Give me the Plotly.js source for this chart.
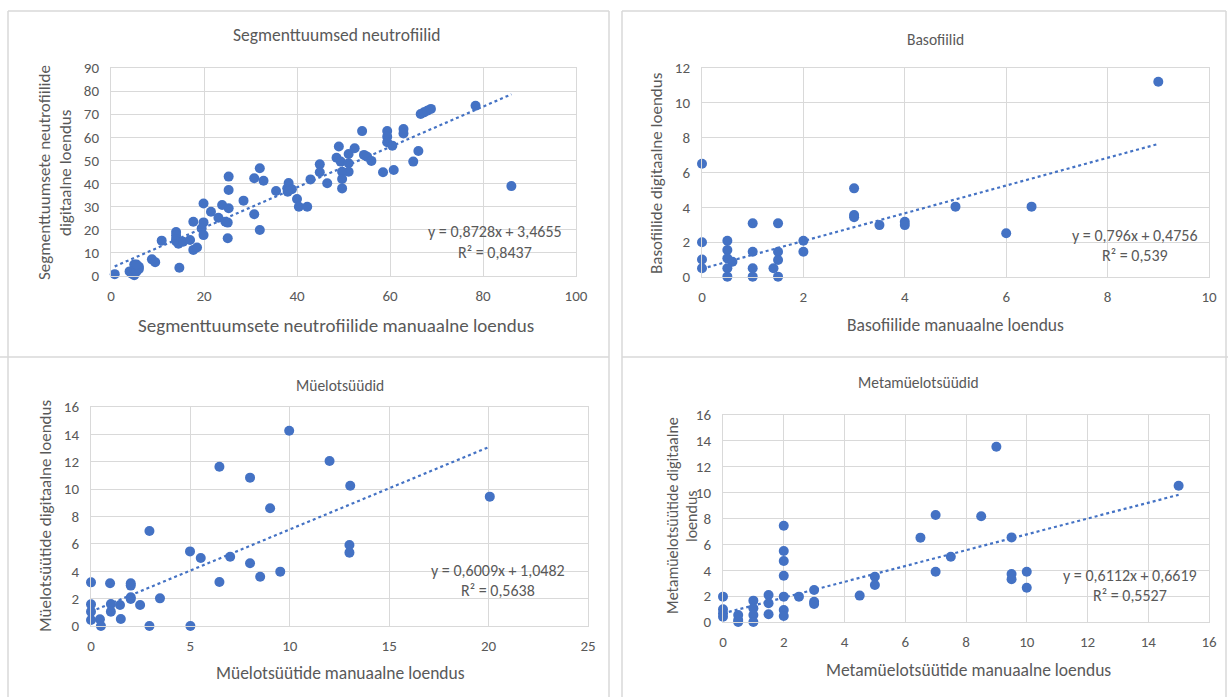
<!DOCTYPE html>
<html><head><meta charset="utf-8">
<script src="https://cdn.plot.ly/plotly-3.0.1.min.js"></script>
<style>html,body{margin:0;padding:0;background:#fff}#chart{width:1228px;height:697px}</style>
</head><body><div id="chart"></div>
<script>
// Panel 1: Segmenttuumsed neutrofiilid
const segManual = [0.8,4,4.5,5,5,5,5.5,6,6,5.5,8.8,9.5,10.9,14.7,14,14,14,14,14.5,15.5,17,17.7,18.5,17.7,19.9,19.5,19.9,19.9,21.5,23.1,24.6,23.9,25.3,25.1,25.1,25.3,25.3,28.5,30.8,32,32.8,30.8,32,35.5,37.9,38.2,38.9,38,40,40.4,42.2,42.9,44.9,44.9,46.5,49,48.5,49.4,51.1,51.1,51.1,49.7,49.7,49.7,52.4,54,54.4,55.1,56,58.5,59.4,59.4,59.4,60.5,60.8,62.9,62.9,65,66.1,66.6,67.3,68,68.8,78.4,86.1];
const segDigital = [0.8,2,1,0.3,3,5,2,4,3,5,7.2,6,15.3,3.6,19,17.5,16,15,14,14.8,15.6,11.3,12.3,23.5,23.2,20.6,17.7,31.4,27.8,25.2,23.5,30.7,29.3,23.1,16.3,37.2,43,32.6,42.3,46.6,41.2,26.7,19.9,36.8,38,40.2,37.5,36.5,33.3,30,30,41.8,48.3,44.9,40.1,56,51.2,49.5,52.8,48.8,45.1,45.1,42,37.9,55.3,62.7,52.4,51.6,49.8,44.9,62.7,60.3,57.9,56.4,45.9,63.6,61.7,49.5,54.1,70.1,70.8,71.5,72.3,73.7,38.9];
const segFit = {slope: 0.8728, intercept: 3.4655, eq: "y = 0,8728x + 3,4655", r2: "R² = 0,8437"};

// Panel 2: Basofiilid
const basManual = [0,0,0,0,0.5,0.5,0.5,0.6,0.5,0.5,1,1,1,1,1.5,1.5,1.5,1.41,1.5,2,2,3,3,3,3.5,4,4,5,6,6.5,9];
const basDigital = [6.5,2,1,0.5,2.08,1.55,1.07,0.88,0.5,0.02,3.08,1.45,0.5,0.02,3.08,1.45,0.98,0.5,0.02,2.08,1.45,5.09,3.56,3.43,2.98,3.17,2.98,4.04,2.51,4.04,11.21];
const basFit = {slope: 0.796, intercept: 0.4756, eq: "y = 0,796x + 0,4756", r2: "R² = 0,539"};

// Panel 3: Müelotsüüdid
const mueManual = [0,0,0,0,0.45,0.5,0.96,1,1,1.46,1.5,2,2,2,2,2.47,2.94,2.94,3.47,4.98,5,5.52,6.46,6.46,7,8,8,8.51,9.01,9.52,9.97,12,13.04,13,13,20.06];
const mueDigital = [3.19,1.58,1.05,0.44,0.49,0,3.12,1.6,1.05,1.53,0.51,3.12,2.95,2.1,1.97,1.53,6.94,0,2.02,5.45,0,4.97,11.64,3.21,5.06,10.84,4.58,3.6,8.6,3.97,14.27,12.05,10.25,5.92,5.36,9.45];
const mueFit = {slope: 0.6009, intercept: 1.0482, eq: "y = 0,6009x + 1,0482", r2: "R² = 0,5638"};

// Panel 4: Metamüelotsüüdid
const metManual = [0,0,0,0,0.5,0.5,0.5,1,1,1,1,1.5,1.5,1.5,2,2,2,2,2,2,2,2.5,3,3,3,4.5,5,5,6.5,7,7,7.5,8.5,9,9.5,9.5,9.5,10,10,15];
const metDigital = [1.96,0.98,0.67,0.41,0.54,0.15,0,1.65,1.06,0.54,0,2.09,1.45,0.6,7.44,5.49,4.71,3.58,1.96,0.93,0.46,1.96,2.47,1.57,1.39,2.04,3.5,2.86,6.52,8.27,3.89,5.05,8.17,13.55,6.54,3.71,3.3,3.89,2.65,10.53];
const metFit = {slope: 0.6112, intercept: 0.6619, eq: "y = 0,6112x + 0,6619", r2: "R² = 0,5527"};

const W = 1228, H = 697;
const px = x => x / W, py = y => 1 - y / H;
const blue = '#4472C4', grid = '#d9d9d9', txt = '#595959';
const FONT = 'Carlito, Lato, "Liberation Sans", sans-serif';

const panels = [
  {mx: segManual, dy: segDigital, fit: segFit, xa: 'x', ya: 'y', xdom: [111, 576], ydom: [68, 276], xr: [0, 100], xd: 20, yr: [0, 90], yd: 10,
   title: 'Segmenttuumsed neutrofiilid', tsz: 17.5, tpos: [336, 35], xt: 'Segmenttuumsete neutrofiilide manuaalne loendus', xsz: 19, xtpos: [336, 325],
   yt: ['Segmenttuumsete neutrofiilide', 'digitaalne loendus'], ytsz: 17, ytx: [45, 66], yty: 173, eqpos: [495, 232]},
  {mx: basManual, dy: basDigital, fit: basFit, xa: 'x2', ya: 'y2', xdom: [702, 1209], ydom: [68, 277], xr: [0, 10], xd: 2, yr: [0, 12], yd: 2,
   title: 'Basofiilid', tsz: 15.5, tpos: [935, 40], xt: 'Basofiilide manuaalne loendus', xsz: 17.5, xtpos: [955, 325],
   yt: ['Basofiilide digitaalne loendus'], ytsz: 17, ytx: [657], yty: 173, eqpos: [1135, 235]},
  {mx: mueManual, dy: mueDigital, fit: mueFit, xa: 'x3', ya: 'y3', xdom: [91, 588], ydom: [407, 626], xr: [0, 25], xd: 5, yr: [0, 16], yd: 2,
   title: 'Müelotsüüdid', tsz: 15.5, tpos: [340, 385], xt: 'Müelotsüütide manuaalne loendus', xsz: 17.5, xtpos: [340, 673],
   yt: ['Müelotsüütide digitaalne loendus'], ytsz: 17, ytx: [45], yty: 516, eqpos: [498, 570]},
  {mx: metManual, dy: metDigital, fit: metFit, xa: 'x4', ya: 'y4', xdom: [723, 1209], ydom: [415, 622], xr: [0, 16], xd: 2, yr: [0, 16], yd: 2,
   title: 'Metamüelotsüüdid', tsz: 15.5, tpos: [918, 383], xt: 'Metamüelotsüütide manuaalne loendus', xsz: 17.5, xtpos: [968, 670],
   yt: ['Metamüelotsüütide digitaalne', 'loendus'], ytsz: 16, ytx: [672, 691], yty: 516, eqpos: [1130, 575]}
];

const traces = [], annotations = [], layout = {
  width: W, height: H, margin: {l: 0, r: 0, t: 0, b: 0}, showlegend: false,
  paper_bgcolor: '#fff', plot_bgcolor: '#fff', font: {family: FONT, color: txt}
};

panels.forEach((p, i) => {
  const xmin = Math.min(...p.mx), xmax = Math.max(...p.mx);
  traces.push({x: [xmin, xmax], y: [p.fit.slope * xmin + p.fit.intercept, p.fit.slope * xmax + p.fit.intercept],
    xaxis: p.xa, yaxis: p.ya, mode: 'lines', line: {color: blue, width: 2.2, dash: 'dot'}, hoverinfo: 'skip', cliponaxis: false});
  traces.push({x: p.mx, y: p.dy, xaxis: p.xa, yaxis: p.ya, mode: 'markers', type: 'scatter', cliponaxis: false,
    marker: {color: blue, size: 10}});
  const sfx = i === 0 ? '' : String(i + 1);
  layout['xaxis' + sfx] = {domain: [px(p.xdom[0]), px(p.xdom[1])], range: p.xr, dtick: p.xd, tick0: 0, anchor: 'y' + sfx,
    showgrid: true, gridcolor: grid, showline: true, linecolor: grid, mirror: true, zeroline: false, ticks: '',
    ticklabelstandoff: 6, tickfont: {family: FONT, size: 15, color: txt}, fixedrange: true};
  layout['yaxis' + sfx] = {domain: [py(p.ydom[1]), py(p.ydom[0])], range: p.yr, dtick: p.yd, tick0: 0, anchor: 'x' + sfx,
    showgrid: true, gridcolor: grid, showline: true, linecolor: grid, mirror: true, zeroline: false, ticks: '',
    ticklabelstandoff: 8, tickfont: {family: FONT, size: 15, color: txt}, fixedrange: true};
  annotations.push({text: p.title, xref: 'paper', yref: 'paper', x: px(p.tpos[0]), y: py(p.tpos[1]), xanchor: 'center', yanchor: 'middle',
    showarrow: false, font: {family: FONT, size: p.tsz, color: txt}});
  annotations.push({text: p.xt, xref: 'paper', yref: 'paper', x: px(p.xtpos[0]), y: py(p.xtpos[1]), xanchor: 'center', yanchor: 'middle',
    showarrow: false, font: {family: FONT, size: p.xsz, color: txt}});
  p.yt.forEach((t, k) => annotations.push({text: t, xref: 'paper', yref: 'paper', x: px(p.ytx[k]), y: py(p.yty), xanchor: 'center', yanchor: 'middle',
    textangle: -90, showarrow: false, font: {family: FONT, size: p.ytsz, color: txt}}));
  annotations.push({text: p.fit.eq, xref: 'paper', yref: 'paper', x: px(p.eqpos[0]), y: py(p.eqpos[1]), xanchor: 'center', yanchor: 'middle',
    showarrow: false, font: {family: FONT, size: 16, color: txt}});
  annotations.push({text: p.fit.r2, xref: 'paper', yref: 'paper', x: px(p.eqpos[0]), y: py(p.eqpos[1] + 20), xanchor: 'center', yanchor: 'middle',
    showarrow: false, font: {family: FONT, size: 16, color: txt}});
});

const border = '#d9d9d9';
const line = (x0, y0, x1, y1) => ({type: 'line', xref: 'paper', yref: 'paper', x0: px(x0), y0: py(y0), x1: px(x1), y1: py(y1), line: {color: border, width: 1.5}});
layout.shapes = [
  line(8, 11, 609, 11), line(8, 11, 8, 697), line(609, 11, 609, 697),
  line(622, 11, 1226, 11), line(622, 11, 622, 697), line(1226, 11, 1226, 697),
  line(0, 357, 609, 357), line(622, 357, 1228, 357)
];
layout.annotations = annotations;

Plotly.newPlot('chart', traces, layout, {staticPlot: true, displayModeBar: false});
</script>
</body></html>
